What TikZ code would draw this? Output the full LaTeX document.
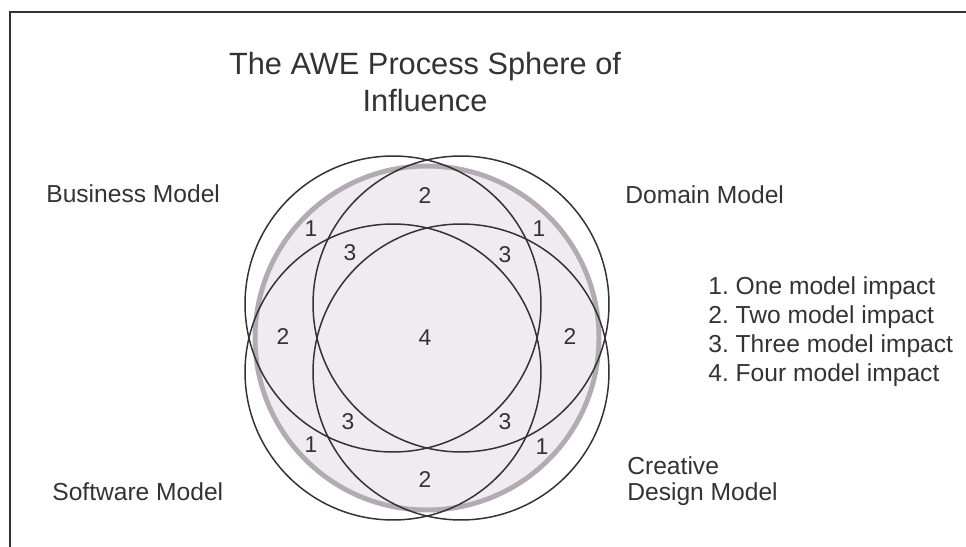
\documentclass[tikz,border=0pt]{standalone}
\usepackage{fontspec}
\setmainfont{Liberation Sans}
\usetikzlibrary{positioning}
\usepackage{xcolor}
\definecolor{ink}{HTML}{333333}
\definecolor{ringgray}{HTML}{B3ABB3}
\definecolor{spherefill}{HTML}{EFECEF}
\frenchspacing

\tikzset{
  model/.style={circle, draw=ink, line width=0.85pt, minimum size=5.92cm, inner sep=0pt},
  count/.style={text=ink, inner sep=1pt, font=\fontsize{13}{15}\selectfont},
  modelname/.style={text=ink, anchor=west, inner sep=0pt, font=\fontsize{14}{16}\selectfont},
  impact/.style={text=ink, inner sep=0pt, font=\fontsize{14}{16}\selectfont}
}

\begin{document}
\begin{tikzpicture}[x=0.02cm, y=-0.02cm]
        \useasboundingbox (0,0) rectangle (966,547);
        % frame
        \draw[ink, line width=1pt] (10,547) -- (10,12) -- (966,12);
        \node[text=ink, align=center, font=\fontsize{17.5}{21}\selectfont] (title) at (425,82) {The AWE Process Sphere of\\Influence};
        % sphere
        \fill[spherefill] (427,338) circle (3.44cm);
        \draw[ringgray, line width=2.8pt] (427,338) circle (3.44cm);
        \node[model] (nw) at (393,304) {};
        \node[model] (ne) at (461,304) {};
        \node[model] (sw) at (393,372) {};
        \node[model] (se) at (461,372) {};
        % impact counts
        \node[count] (c4) at (425,338) {4};
        \node[count] (c2n) at (425,196) {2};
        \node[count] (c2s) at (425,480) {2};
        \node[count] (c2w) at (283,337) {2};
        \node[count] (c2e) at (570,337) {2};
        \node[count] (c3nw) at (350,253) {3};
        \node[count] (c3ne) at (505,255) {3};
        \node[count] (c3sw) at (348,422) {3};
        \node[count] (c3se) at (505,422) {3};
        \node[count] (c1nw) at (311,229) {1};
        \node[count] (c1ne) at (539,229) {1};
        \node[count] (c1sw) at (311,445) {1};
        \node[count] (c1se) at (542,447) {1};
        % models
        \node[modelname] (business) at (46,194) {Business Model};
        \node[modelname] (domain) at (625,195) {Domain Model};
        \node[modelname] (software) at (52,492) {Software Model};
        \node[modelname] (creative) at (627,466) {Creative};
        \node[modelname, below=0.56cm of creative.west, anchor=west] (design) {Design Model};
        % legend
        \node[impact, anchor=west] (l1) at (708,288) {1. One model impact};
        \node[impact, below=0.58cm of l1.west, anchor=west] (l2) {2. Two model impact};
        \node[impact, below=0.58cm of l2.west, anchor=west] (l3) {3. Three model impact};
        \node[impact, below=0.58cm of l3.west, anchor=west] (l4) {4. Four model impact};
    \end{tikzpicture}
\end{document}
